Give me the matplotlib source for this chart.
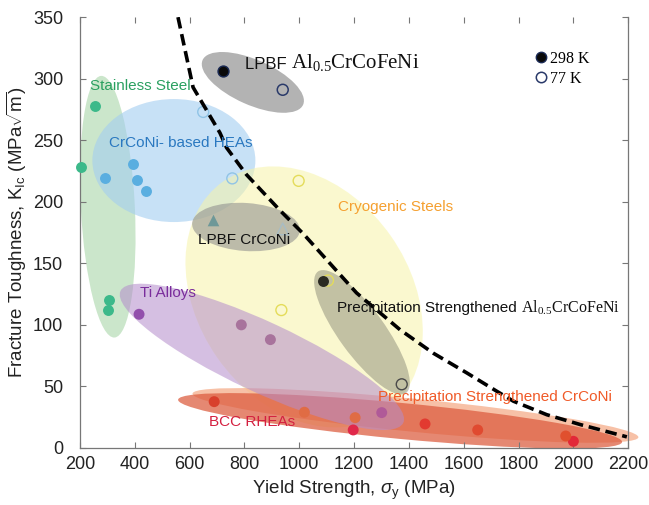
import matplotlib
matplotlib.use("Agg")
import matplotlib.pyplot as plt
from matplotlib.patches import Ellipse
from matplotlib.lines import Line2D
import matplotlib.transforms as mtransforms

plt.rcParams['font.family'] = ['Liberation Sans', 'DejaVu Sans']
plt.rcParams['mathtext.fontset'] = 'custom'
plt.rcParams['mathtext.rm'] = 'Liberation Sans'
plt.rcParams['mathtext.it'] = 'Liberation Sans:italic'
plt.rcParams['mathtext.sf'] = 'Liberation Sans'

# ---------------- data ----------------
stainless_x = [255, 203, 307, 303]
stainless_y = [278, 228, 120, 112]

crconi_x = [291, 393, 408, 441]
crconi_y = [219, 231, 218, 209]

ti_x = [416, 789, 895, 1301]
ti_y = [108.6, 100, 88, 28.7]

bcc_x = [690, 1197, 1459, 1651, 2000]
bcc_y = [37.6, 14.6, 19.5, 14.6, 5.4]

pscrconi_x = [1019, 1204, 1972]
pscrconi_y = [29, 24.6, 9.7]

crconi_77_x = [650, 756]
crconi_77_y = [273, 219]

cryo_77_x = [998, 935, 1105]
cryo_77_y = [217, 112, 136]

lpbf_crconi_298_x = [687]
lpbf_crconi_298_y = [185]
lpbf_crconi_77_x = [940]
lpbf_crconi_77_y = [178]

lpbf_al_298_x = [722]
lpbf_al_298_y = [306]
lpbf_al_77_x = [940]
lpbf_al_77_y = [291]

ps_al_298_x = [1088]
ps_al_298_y = [135.6]
ps_al_77_x = [1374]
ps_al_77_y = [51.7]

curve_x = [558, 613, 711, 735, 808, 930, 1015, 1124, 1209, 1368, 1489, 1611, 1721, 1781, 1903, 2025, 2195]
curve_y = [350, 293, 256, 244, 222, 193, 174, 147, 126, 96, 77, 61, 46, 38, 27, 19, 9]

x_ticks = [200, 400, 600, 800, 1000, 1200, 1400, 1600, 1800, 2000, 2200]
y_ticks = [0, 50, 100, 150, 200, 250, 300, 350]

# region ellipses: centre (data), major/minor size (pixels), angle (deg), colour, alpha, clipped
REGIONS = [
    (302, 196, 262, 54, 92.9, '#8cc98c', 0.45, True),     # stainless
    (543, 233.5, 163, 123, 0, '#a3cdf0', 0.6, True),      # CrCoNi HEAs
    (1018, 122.7, 282, 212, -55, '#f7f4a8', 0.55, True),  # cryogenic steels
    (831, 297, 110, 45, -24, '#8a8a8a', 0.65, True),      # LPBF Al0.5
    (806, 179.5, 108, 48, -4, '#8a8a8a', 0.55, True),     # LPBF CrCoNi
    (1424, 26.4, 448, 33, -5.6, '#f5ad8a', 0.75, False),  # PS CrCoNi
    (1368, 22, 446, 36, -5.45, '#dc5a3c', 0.72, True),    # BCC RHEAs
    (864, 74, 312, 70, -25, '#b48ccb', 0.55, True),       # Ti alloys
    (1229, 94, 150, 46, -54, '#7e7e6e', 0.45, True),      # PS Al0.5
]

DPI = 100
fig = plt.figure(figsize=(6.49, 5.05), dpi=DPI)
ax = fig.add_axes([0.123, 0.113, 0.845, 0.853])
ax.set_autoscale_on(False)
ax.set_xlim(200, 2200)
ax.set_ylim(0, 350)

for cx, cy, w, h, ang, col, a, clip in REGIONS:
    tr = fig.dpi_scale_trans + mtransforms.ScaledTranslation(cx, cy, ax.transData)
    e = Ellipse((0, 0), w / DPI, h / DPI, angle=ang, transform=tr,
                facecolor=col, edgecolor='none', alpha=a, zorder=1)
    ax.add_patch(e)
    if not clip:
        e.set_clip_on(False)

S = 62
kw = dict(zorder=3, clip_on=False)
ax.scatter(stainless_x, stainless_y, s=S, c='#3cb98a', linewidths=0, **kw)
ax.scatter(crconi_x, crconi_y, s=S, c='#5aaee0', linewidths=0, **kw)
ax.scatter(ti_x, ti_y, s=S, c=['#9250ac', '#a8739c', '#a8739c', '#b05a98'], linewidths=0, **kw)
ax.scatter(bcc_x, bcc_y, s=S, c=['#d8402c', '#e0284a', '#e23a30', '#e04a30', '#e22838'], linewidths=0, **kw)
ax.scatter(pscrconi_x, pscrconi_y, s=S, c=['#e06c44', '#e06c44', '#e0502e'], linewidths=0, **kw)
ax.scatter(crconi_77_x, crconi_77_y, s=S, facecolors='none', edgecolors='#90c4e6', linewidths=1, **kw)
ax.scatter(cryo_77_x, cryo_77_y, s=S, facecolors='none', edgecolors='#e4dc5a', linewidths=1, **kw)
ax.scatter(lpbf_crconi_298_x, lpbf_crconi_298_y, s=70, marker='^', c='#6e9898', linewidths=0, **kw)
ax.scatter(lpbf_crconi_77_x, lpbf_crconi_77_y, s=70, marker='^', facecolors='none', edgecolors='#a8bcc4', linewidths=1, **kw)
ax.scatter(lpbf_al_298_x, lpbf_al_298_y, s=S, c='#0a0a0a', edgecolors='#1a2a55', linewidths=1, **kw)
ax.scatter(lpbf_al_77_x, lpbf_al_77_y, s=S, facecolors='none', edgecolors='#2a3a6a', linewidths=1.1, **kw)
ax.scatter(ps_al_298_x, ps_al_298_y, s=S, c='#2a2a22', linewidths=0, **kw)
ax.scatter(ps_al_77_x, ps_al_77_y, s=S, facecolors='none', edgecolors='#4a4a4a', linewidths=1, **kw)

ax.plot(curve_x, curve_y, color='black', lw=2.6, ls=(0, (3.2, 1.6)), zorder=4)

# labels
ax.text(236, 294, 'Stainless Steel', color='#2aa060', fontsize=11, va='center', zorder=5)
ax.text(306, 248, 'CrCoNi- based HEAs', color='#2a78c0', fontsize=11, va='center', zorder=5)
t1 = ax.text(802, 308, 'LPBF ', color='#111111', fontsize=12, va='baseline', zorder=5)
ax.annotate(r'Al$_\mathregular{0.5}$CrCoFeNi', xy=(1, 308), xycoords=(t1, 'data'),
            fontsize=15, family='Liberation Serif', va='baseline', ha='left', color='#111111', zorder=5)
ax.text(631, 169, 'LPBF CrCoNi', color='#111111', fontsize=11, va='center', zorder=5)
ax.text(1142, 196, 'Cryogenic Steels', color='#f5a030', fontsize=11, va='center', zorder=5)
ax.text(419, 126, 'Ti Alloys', color='#7a2c9c', fontsize=11, va='center', zorder=5)
t2 = ax.text(1138, 110.5, 'Precipitation Strengthened ', color='#111111', fontsize=11, va='baseline', zorder=5)
ax.annotate(r'Al$_\mathregular{0.5}$CrCoFeNi', xy=(1, 110.5), xycoords=(t2, 'data'),
            fontsize=11.5, family='Liberation Serif', va='baseline', ha='left', color='#111111', zorder=5)
ax.text(1288, 41.5, 'Precipitation Strengthened CrCoNi', color='#f05a28', fontsize=11, va='center', zorder=5)
ax.text(671, 21, 'BCC RHEAs', color='#d42040', fontsize=11, va='center', zorder=5)

handles = [Line2D([], [], marker='o', ls='', mfc='#0a0a0a', mec='#1a2a55', ms=7.5),
           Line2D([], [], marker='o', ls='', mfc='none', mec='#2a3a6a', ms=7.5, mew=1.1)]
ax.legend(handles, ['298 K', '77 K'], loc='upper left', bbox_to_anchor=(0.815, 0.94),
          frameon=False, handlelength=0.8, handletextpad=0.15, labelspacing=0.25,
          borderpad=0, prop={'family': 'Liberation Serif', 'size': 11.5})

ax.set_xticks(x_ticks)
ax.set_yticks(y_ticks)
ax.tick_params(direction='in', length=4.5, width=0.8, color='#777777', labelsize=13,
               top=True, right=True, labelcolor='#222222')
ax.tick_params(axis='y', pad=12)
ax.tick_params(axis='x', pad=6)
for side in ['left', 'bottom', 'right']:
    ax.spines[side].set_color('#777777')
    ax.spines[side].set_linewidth(0.9)
ax.spines['top'].set_visible(False)

ax.set_xlabel(r'Yield Strength, $\sigma_\mathregular{y}$ (MPa)', fontsize=13.5, color='#222222', labelpad=4)
ax.set_ylabel(r'Fracture Toughness, K$_\mathregular{Ic}$ (MPa$\sqrt{\mathregular{m}}$)', fontsize=13.5,
              color='#222222', labelpad=3)

fig.savefig('out.png', dpi=DPI)
